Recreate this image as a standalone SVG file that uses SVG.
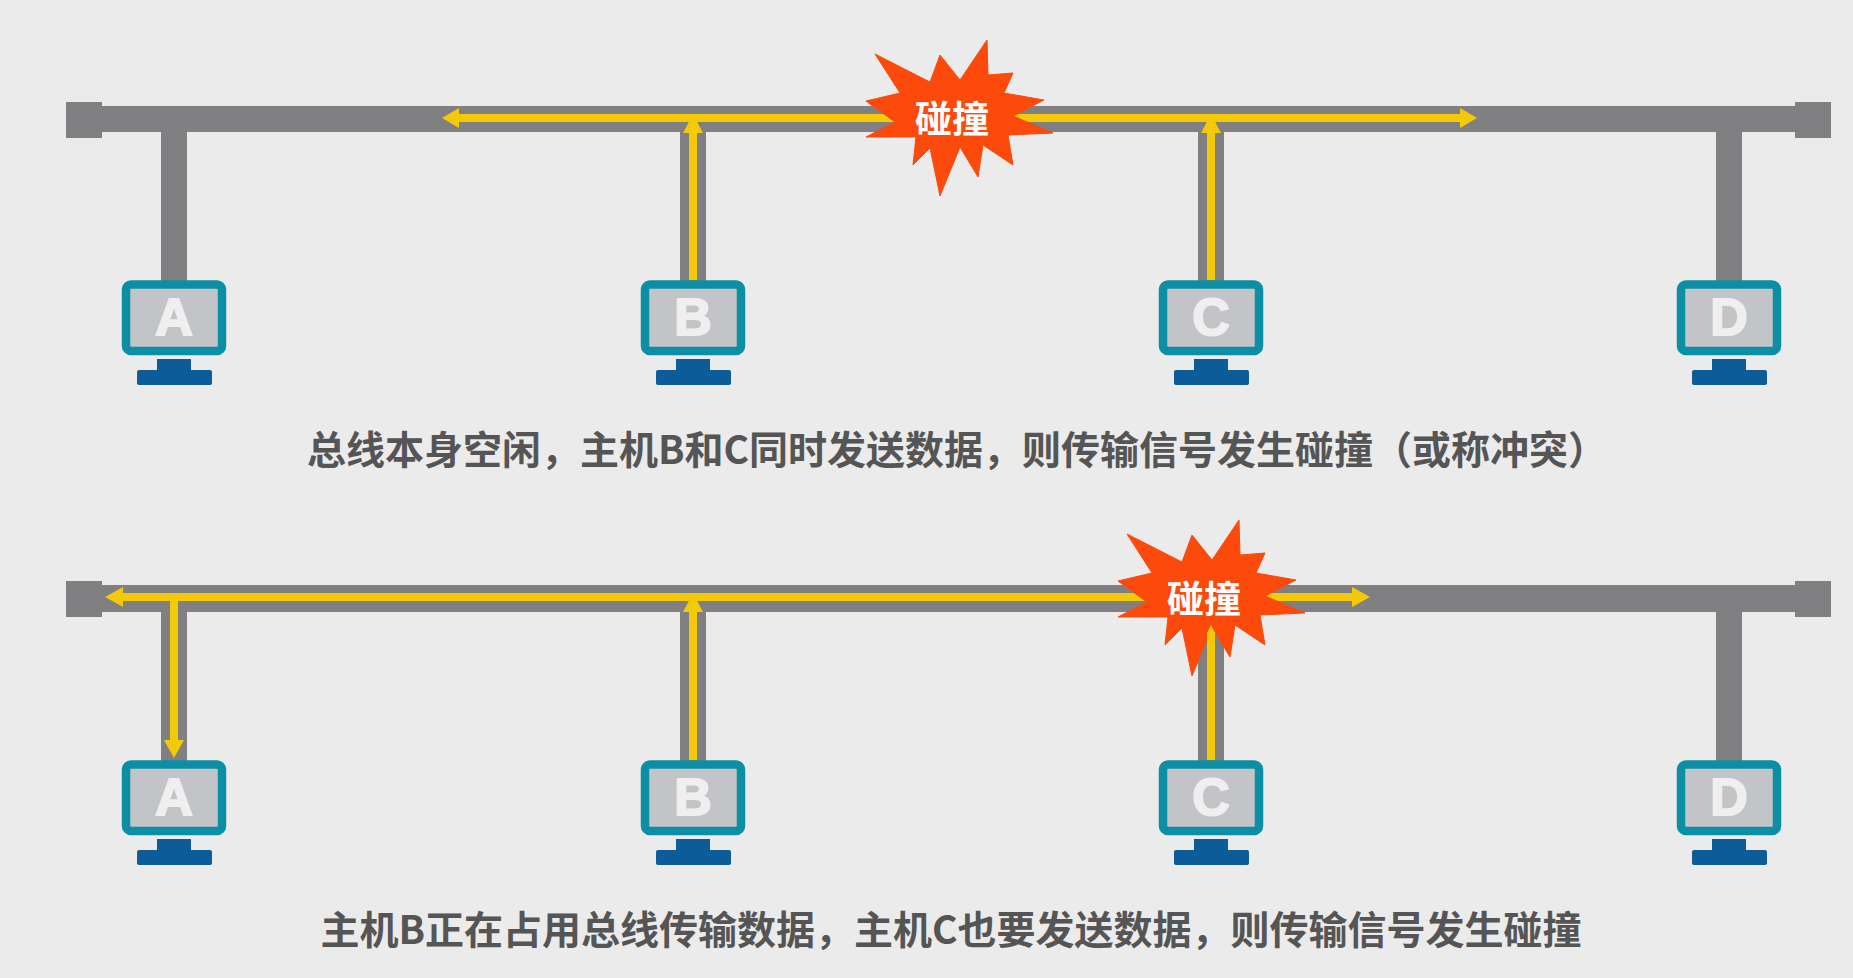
<svg xmlns="http://www.w3.org/2000/svg" xmlns:xlink="http://www.w3.org/1999/xlink" width="1853" height="978" viewBox="0 0 1853 978">
<style>
.bus{fill:#808082}
.scr{fill:#c3c4c7;stroke:#0c8ea5;stroke-width:8.5}
.stand{fill:#0b5c99}
.ltr{font:bold 52px "Liberation Sans",Arial,sans-serif;fill:#efefef;stroke:#efefef;stroke-width:2;text-anchor:middle}
.sig{stroke:#f4ca08;stroke-width:8;fill:none}
.tip{fill:#f4ca08}
.star{fill:#fb4a0c;stroke:#fb4a0c;stroke-width:1;stroke-linejoin:round}
.boom{font:bold 37px "Noto Sans CJK SC","Liberation Sans",sans-serif;fill:#fff;text-anchor:middle}
.cap{font:bold 39px "Noto Sans CJK SC","Liberation Sans",sans-serif;fill:#555;text-anchor:middle}
</style>
<defs>
<g id="monitor">
<rect class="scr" x="126" y="284.5" width="96" height="66.5" rx="5"/>
<rect class="stand" x="157" y="359" width="34" height="12"/>
<rect class="stand" x="137" y="370" width="75" height="15" rx="2"/>
</g>
<polygon id="burst" class="star" points="875,54 930,82 940,55 960,80 987,40 988,75 1013,73 1004,93 1044,100 1013,116 1053,133 1008,135 1013,165 983,145 978,177 960,147 940,196 930,148 913,165 916,137 866,137 895,122 866,101 900,93"/>
</defs>
<rect width="1853" height="978" fill="#ebebeb"/>
<g id="bus-top">
<rect class="bus" x="100" y="106" width="1697" height="26"/>
<rect class="bus" x="66" y="102" width="36" height="36"/>
<rect class="bus" x="1795" y="102" width="36" height="36"/>
<rect class="bus" x="161" y="130" width="26" height="152"/>
<rect class="bus" x="680" y="130" width="26" height="152"/>
<rect class="bus" x="1198" y="130" width="26" height="152"/>
<rect class="bus" x="1716" y="130" width="26" height="152"/>
</g>
<g id="bus-bottom">
<rect class="bus" x="100" y="585" width="1697" height="27"/>
<rect class="bus" x="66" y="581" width="36" height="36"/>
<rect class="bus" x="1795" y="581" width="36" height="36"/>
<rect class="bus" x="161" y="610" width="26" height="152"/>
<rect class="bus" x="680" y="610" width="26" height="152"/>
<rect class="bus" x="1198" y="610" width="26" height="152"/>
<rect class="bus" x="1716" y="610" width="26" height="152"/>
</g>
<g id="connectors">
<path class="sig" d="M456 118H900M1010 118H1462M693 280V130M1211 280V130"/>
<polygon class="tip" points="442,118 459,108 459,128"/>
<polygon class="tip" points="1477,118 1460,108 1460,128"/>
<polygon class="tip" points="693,114 683,133 703,133"/>
<polygon class="tip" points="1211,114 1201,133 1221,133"/>
<path class="sig" d="M120 597H1150M1260 597H1355M693 760V610M174 597V742"/>
<polygon class="tip" points="105,597 123,587 123,607"/>
<polygon class="tip" points="1370,597 1352,587 1352,607"/>
<polygon class="tip" points="693,593 683,612 703,612"/>
<polygon class="tip" points="174,758 164,740 184,740"/>
</g>
<g id="host-a1"><use xlink:href="#monitor"/><text class="ltr" x="174" y="335">A</text></g>
<g id="host-b1"><use xlink:href="#monitor" x="519"/><text class="ltr" x="693" y="335">B</text></g>
<g id="host-c1"><use xlink:href="#monitor" x="1037"/><text class="ltr" x="1211" y="335">C</text></g>
<g id="host-d1"><use xlink:href="#monitor" x="1555"/><text class="ltr" x="1729" y="335">D</text></g>
<g id="host-a2"><use xlink:href="#monitor" y="480"/><text class="ltr" x="174" y="815">A</text></g>
<g id="host-b2"><use xlink:href="#monitor" x="519" y="480"/><text class="ltr" x="693" y="815">B</text></g>
<g id="host-c2"><use xlink:href="#monitor" x="1037" y="480"/><text class="ltr" x="1211" y="815">C</text></g>
<g id="host-d2"><use xlink:href="#monitor" x="1555" y="480"/><text class="ltr" x="1729" y="815">D</text></g>
<g id="collision-top"><use xlink:href="#burst"/><text class="boom" x="952" y="133">碰撞</text></g>
<g id="collision-bottom"><use xlink:href="#burst" x="252" y="480"/><text class="boom" x="1204" y="613">碰撞</text></g>
<path class="sig" d="M1211 760V632"/>
<polygon class="tip" points="1211,625 1207,633 1215,633"/>
<text class="cap" x="957" y="464">总线本身空闲，主机B和C同时发送数据，则传输信号发生碰撞（或称冲突）</text>
<text class="cap" x="951" y="944">主机B正在占用总线传输数据，主机C也要发送数据，则传输信号发生碰撞</text>
</svg>
